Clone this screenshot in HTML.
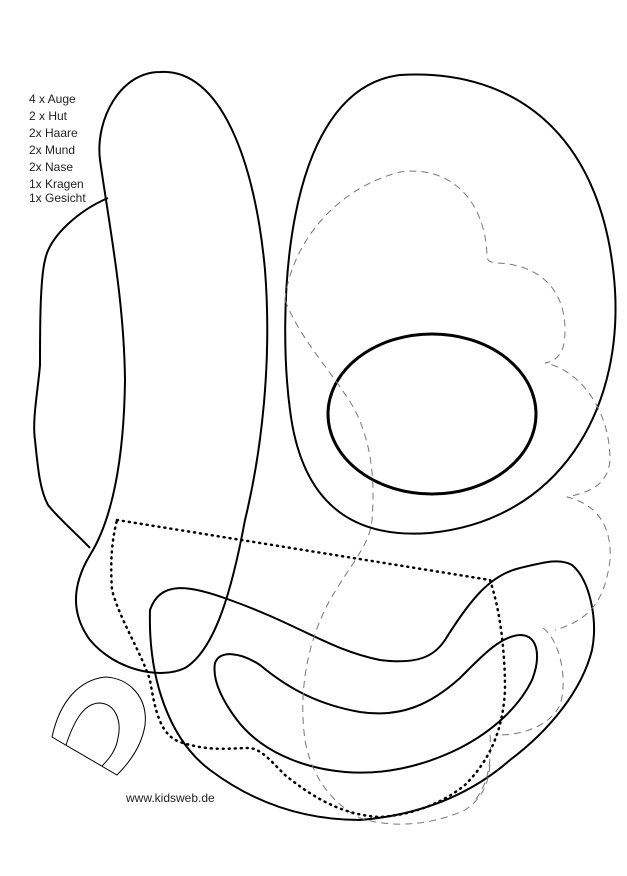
<!DOCTYPE html>
<html><head><meta charset="utf-8"><style>
html,body{margin:0;padding:0;background:#fff;}
svg{display:block}
text{font-family:"Liberation Sans",sans-serif;font-size:12px;fill:#222}
</style></head><body>
<svg width="627" height="876" viewBox="0 0 627 876" xmlns="http://www.w3.org/2000/svg">
<g fill="none" stroke="#000" stroke-width="2">
<!-- banana -->
<path d="M160,72 C220,68 255,160 265,270 C272,360 262,450 245,520 C232,590 215,650 185,668 C160,680 115,670 90,640 C68,610 75,580 90,555 C112,520 124,460 125,380 C124,300 110,230 100,160 C95,120 120,72 160,72 Z"/>
<!-- gesicht left -->
<path d="M108,198 C80,210 50,235 45,260 C40,280 40,330 40,365 C38,390 32,420 35,440 C38,470 40,490 48,505 C60,520 78,535 90,548"/>
<!-- big oval -->
<path d="M400,75 C520,68 605,140 615,290 C622,410 560,520 430,533 C340,540 300,490 290,410 C278,320 280,90 400,75 Z"/>
<!-- mouth outer -->
<path d="M150,610 C160,580 190,585 230,600 C300,625 330,650 380,660 C420,665 435,655 445,640 C470,600 490,575 520,568 C545,562 560,558 572,565 C590,580 598,620 592,650 C582,690 550,730 510,760 C470,795 420,815 360,820 C300,820 250,800 210,770 C170,740 148,680 150,610 Z"/>
<!-- mouth inner -->
<path d="M215,663 C220,650 240,652 260,665 C290,690 320,705 360,712 C400,718 430,705 460,678 C480,658 500,636 520,635 C540,635 540,660 532,680 C520,705 495,730 460,748 C420,768 380,775 345,772 C300,768 260,750 237,720 C222,700 212,680 215,663 Z"/>
</g>
<!-- eye -->
<ellipse cx="432" cy="414" rx="104" ry="80" fill="none" stroke="#000" stroke-width="3"/>
<!-- dashed cloud -->
<g fill="none" stroke="#777" stroke-width="1" stroke-dasharray="7,5">
<path d="M285,300 C290,250 330,190 400,172 C450,165 485,200 487,255 C487,262 490,262 498,263 C540,265 565,290 565,330 C565,350 560,360 545,363 C580,370 610,410 610,460 C608,485 590,492 567,497 C600,505 612,530 610,560 C605,600 590,620 555,630"/>
<path d="M285,300 C300,340 335,375 355,410 C372,445 375,480 372,520 C370,545 350,565 330,600 C308,640 298,690 305,740 C312,780 335,805 360,818 C390,828 430,826 465,810 C480,800 490,785 490,760"/>
<path d="M543,628 C560,640 568,680 560,705 C550,725 525,735 497,735"/>
<path d="M490,735 C492,760 488,785 475,800"/>
</g>
<!-- dotted collar -->
<path d="M117,520 L490,580 C500,610 505,650 505,690 C503,730 490,760 465,785 C440,805 410,815 380,817 C340,815 310,795 285,775 C270,760 262,750 250,748 C230,748 210,752 180,742 C160,735 155,710 150,680 C140,650 120,620 112,590 C110,560 112,540 117,520 Z" fill="none" stroke="#000" stroke-width="2.5" stroke-dasharray="1,5" stroke-linecap="round"/>
<!-- nose -->
<g fill="none" stroke="#000" stroke-width="1">
<path d="M52,737 C60,700 80,680 105,677 C130,678 148,698 145,725 C142,745 130,762 117,775 Z"/>
<path d="M66,745 C75,718 85,703 100,703 C115,704 122,720 118,738 C116,750 110,758 102,766"/>
</g>
<text x="29" y="103">4 x Auge</text>
<text x="29" y="120">2 x Hut</text>
<text x="29" y="137">2x Haare</text>
<text x="29" y="154">2x Mund</text>
<text x="29" y="171">2x Nase</text>
<text x="29" y="188">1x Kragen</text>
<text x="29" y="202">1x Gesicht</text>
<text x="126" y="802">www.kidsweb.de</text>
</svg>
</body></html>
